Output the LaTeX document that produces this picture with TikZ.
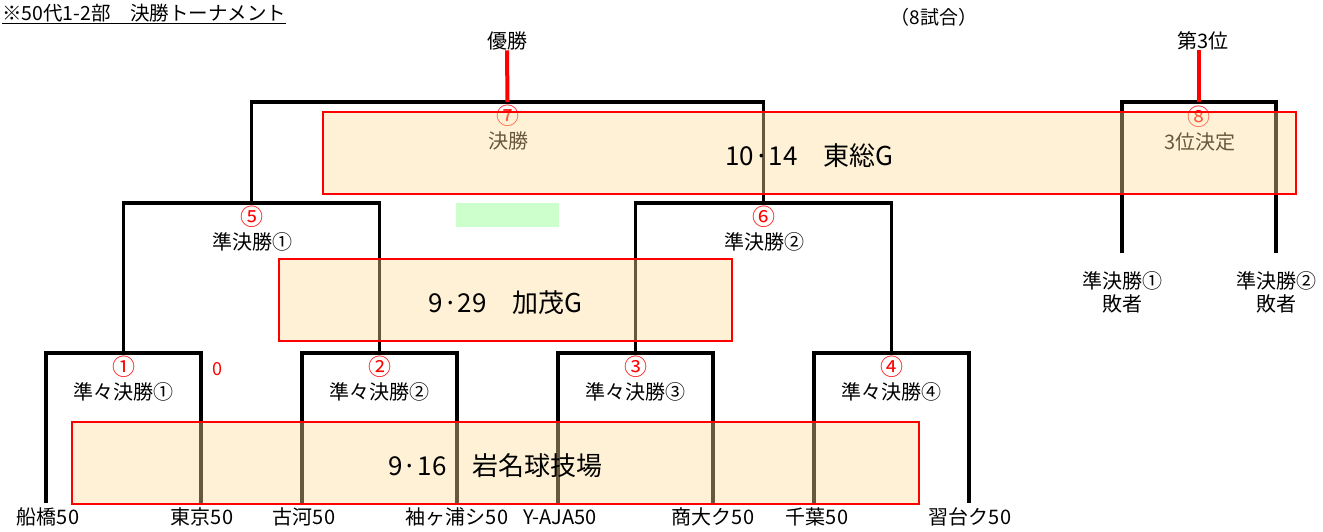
\documentclass[tikz,border=0pt]{standalone}
\usepackage{fontspec}
\setmainfont{Noto Sans CJK JP}
\newfontfamily\propfont[CharacterWidth=Proportional]{Noto Sans CJK JP}
\definecolor{boxfill}{RGB}{255,220,150}
\definecolor{mint}{RGB}{204,255,204}
\begin{document}
\begin{tikzpicture}[x=1pt,y=-1pt,
  bline/.style={line width=3.2pt, line join=miter},
  rline/.style={line width=4pt, red},
  sched/.style={draw=red, line width=1.3pt, fill=boxfill, fill opacity=0.4, text opacity=1, inner sep=0pt, text height=25pt, text depth=0pt, font=\fontsize{26}{28}\selectfont},
  lbl/.style={inner sep=0pt, font=\fontsize{20}{23}\selectfont},
  cnum/.style={inner sep=0pt, text=red, font=\fontsize{23}{25}\selectfont},
  team/.style={inner sep=0pt, font=\propfont\fontsize{20}{23}\selectfont}]
\useasboundingbox (0,0) rectangle (1323,532);

% title
\node[anchor=west, inner sep=0pt, font=\fontsize{19.5}{21}\selectfont] (title) at (2,14) {\underline{※50代1-2部　決勝トーナメント}};
\node[lbl, font=\fontsize{19}{21}\selectfont] (games) at (934,17) {（8試合）};

% green marker
\fill[mint] (456,203) rectangle (559,227);

% coordinates
\coordinate (b1) at (46,503);
\coordinate (b2) at (201,503);
\coordinate (b3) at (302,503);
\coordinate (b4) at (457,503);
\coordinate (b5) at (558,503);
\coordinate (b6) at (713,503);
\coordinate (b7) at (814,503);
\coordinate (b8) at (969,503);
\coordinate (q1) at (123.5,353);
\coordinate (q2) at (379.5,353);
\coordinate (q3) at (635.5,353);
\coordinate (q4) at (891.5,353);
\coordinate (s1) at (251.5,203);
\coordinate (s2) at (763.5,203);
\coordinate (f) at (507.5,102);
\coordinate (tp) at (1199,102);
\coordinate (l1) at (1122,253);
\coordinate (l2) at (1276,253);

% brackets
\draw[bline] (b1) |- (q1) -| (b2);
\draw[bline] (b3) |- (q2) -| (b4);
\draw[bline] (b5) |- (q3) -| (b6);
\draw[bline] (b7) |- (q4) -| (b8);
\draw[bline] (q1) |- (s1) -| (q2);
\draw[bline] (q3) |- (s2) -| (q4);
\draw[bline] (s1) |- (f) -| (s2);
\draw[bline] (l1) |- (tp) -| (l2);

% winners
\node[lbl] (champ) at (507,41) {優勝};
\node[lbl] (third) at (1203,41) {第3位};
\draw[rline] (f) -- (champ.south);
\draw[rline] (tp) -- (tp |- third.south);

% match labels
\node[cnum] (n1) at (123.5,367) {①};
\node[lbl] (r1) at (123.5,392) {準々決勝①};
\node[cnum] (n2) at (379.5,367) {②};
\node[lbl] (r2) at (379.5,392) {準々決勝②};
\node[cnum] (n3) at (635.5,367) {③};
\node[lbl] (r3) at (635.5,392) {準々決勝③};
\node[cnum] (n4) at (891.5,367) {④};
\node[lbl] (r4) at (891.5,392) {準々決勝④};
\node[inner sep=0pt, text=red, font=\fontsize{18}{20}\selectfont] (zero) at (217,369) {0};
\node[cnum] (n5) at (252,217) {⑤};
\node[lbl] (r5) at (252,242) {準決勝①};
\node[cnum] (n6) at (764,217) {⑥};
\node[lbl] (r6) at (764,242) {準決勝②};
\node[cnum] (n7) at (508,116) {⑦};
\node[lbl] (r7) at (508,141) {決勝};
\node[cnum] (n8) at (1199,117) {⑧};
\node[lbl] (r8) at (1200,142) {3位決定};
\node[lbl, align=center] (ls1) at (1122,292) {準決勝①\\敗者};
\node[lbl, align=center] (ls2) at (1276,292) {準決勝②\\敗者};

% teams
\node[team] (t1) at (48,517) {船橋５０};
\node[team] (t2) at (202,517) {東京50};
\node[team] (t3) at (304,517) {古河５０};
\node[team] (t4) at (457,517) {袖ヶ浦シ50};
\node[team] (t5) at (560,517) {Y-AJA50};
\node[team] (t6) at (713,517) {商大ク５０};
\node[team] (t7) at (817,517) {千葉５０};
\node[team] (t8) at (970,517) {習台ク５０};

% schedule boxes
\node[sched, minimum width=973pt, minimum height=82pt] (d3) at (809.5,153) {10·14　東総G};
\node[sched, minimum width=453pt, minimum height=82pt] (d2) at (505.5,300) {9·29　加茂G};
\node[sched, minimum width=847pt, minimum height=82pt] (d1) at (495.5,463) {9·16　岩名球技場};
\end{tikzpicture}
\end{document}
